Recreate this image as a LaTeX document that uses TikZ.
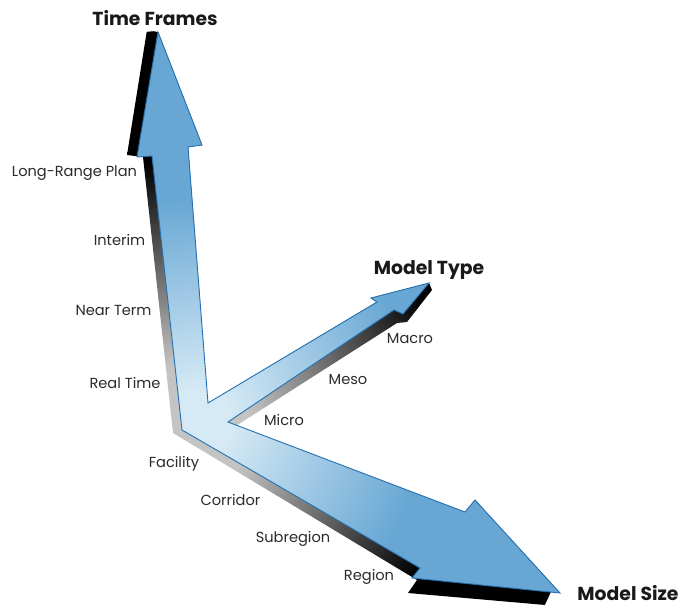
\documentclass[tikz,border=0pt]{standalone}
\usepackage{fontspec}
\setmainfont{Poppins}
\definecolor{bluemain}{HTML}{68A7D4}
\definecolor{bluelight}{HTML}{D6EAF5}
\definecolor{blueline}{HTML}{2470B0}
\definecolor{shadlight}{HTML}{C4C4C4}
\definecolor{txt}{HTML}{2B2B2B}
\pgfdeclareradialshading{blueshade}{\pgfpoint{0bp}{0bp}}{color(0bp)=(bluelight); color(2bp)=(bluelight); color(14bp)=(bluemain); color(50bp)=(bluemain)}
\pgfdeclareradialshading{shadshade}{\pgfpoint{0bp}{0bp}}{color(0bp)=(shadlight); color(4bp)=(shadlight); color(17bp)=(black); color(50bp)=(black)}
\tikzset{
  lab/.style={font=\fontsize{14.6}{16}\selectfont, text=txt, inner sep=0pt},
  ttl/.style={font=\bfseries\fontsize{18.8}{20}\selectfont, text=black!90, inner sep=0pt},
  outline/.style={draw=blueline, line width=0.9pt, line join=miter}
}
\def\Ppath{(158,32) -- (202,145) -- (188,147) -- (208,403) -- (377,302) -- (371,298) -- (429,283) -- (403,314) -- (394,310) -- (228,422) -- (465,512) -- (475,500) -- (560,593) -- (412,578) -- (420,568) -- (182,430) -- (152,156) -- (137,157) -- cycle}
\def\Spath{(147,30) -- (158,32) -- (202,145) -- (188,147) -- (208,403) -- (377,302) -- (371,298) -- (429,283) -- (432,290) -- (407,322) -- (397,323) -- (231,429) -- (465,512) -- (475,500) -- (560,593) -- (557,606) -- (408,593) -- (417,580) -- (173,433) -- (143,157) -- (127,155) -- cycle}
\begin{document}
\begin{tikzpicture}[x=1pt,y=-1pt]
\useasboundingbox[fill=white] (0,0) rectangle (683,606);
% shadow / extrusion
\begin{scope}
  \clip \Spath;
  \shade[shading=shadshade] (185,430) circle (400);
\end{scope}
% blue arrows
\begin{scope}
  \clip \Ppath;
  \shade[shading=blueshade] (198,422) circle (400);
\end{scope}
\path[outline] \Ppath;
% titles
\node[ttl] (tf) at (155,18) {Time Frames};
\node[ttl] (mt) at (429,270) {Model Type};
\node[ttl] (ms) at (628,593) {Model Size};
% time frame labels
\node[lab] (lrp) at (74.5,173) {Long-Range Plan};
\node[lab] (int) at (119.5,240) {Interim};
\node[lab] (nt) at (113.5,310) {Near Term};
\node[lab] (rt) at (125,383) {Real Time};
% model size labels
\node[lab] (fac) at (174,464) {Facility};
\node[lab] (cor) at (230.5,500) {Corridor};
\node[lab] (sub) at (293,539) {Subregion};
\node[lab] (reg) at (369,577) {Region};
% model type labels
\node[lab] (mic) at (284,420) {Micro};
\node[lab] (mes) at (348,380) {Meso};
\node[lab] (mac) at (410,339) {Macro};
\end{tikzpicture}
\end{document}
